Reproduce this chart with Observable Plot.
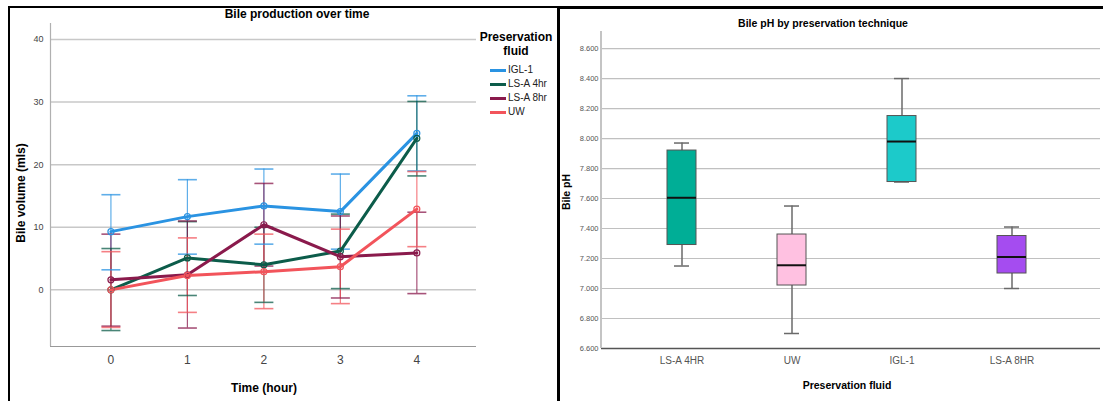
<!DOCTYPE html>
<html><head><meta charset="utf-8">
<script src="https://cdn.jsdelivr.net/npm/d3@7"></script>
<script src="https://cdn.jsdelivr.net/npm/@observablehq/plot@0.6"></script>
<style>
body{margin:0;background:#fff;font-family:"Liberation Sans",Arial,sans-serif;}
#wrap{position:relative;width:1103px;height:401px;overflow:hidden;background:#fff;}
.abs{position:absolute;}
.lbl{position:absolute;white-space:nowrap;line-height:1;}
.bar{position:absolute;background:#000;z-index:5;}
</style></head><body><div id="wrap"></div>
<script>
// ---------- Left chart data: Bile production over time ----------
const times = [0, 1, 2, 3, 4];
const volTicks = [0, 10, 20, 30, 40];
const seriesNames = ["IGL-1", "LS-A 4hr", "LS-A 8hr", "UW"];
const seriesColors = ["#2a93e2", "#0c5c4a", "#8a1a4c", "#f2545b"];
const meanIGL1 = [9.3, 11.7, 13.4, 12.5, 25.0];
const lowIGL1  = [3.2, 5.7, 7.3, 6.5, 19.0];
const highIGL1 = [15.2, 17.6, 19.3, 18.5, 31.0];
const meanLSA4 = [0.0, 5.1, 4.0, 6.2, 24.2];
const lowLSA4  = [-6.5, -0.9, -2.0, 0.2, 18.2];
const highLSA4 = [6.6, 10.9, 10.0, 12.1, 30.1];
const meanLSA8 = [1.6, 2.4, 10.4, 5.3, 5.9];
const lowLSA8  = [-5.8, -6.1, 3.8, -1.3, -0.6];
const highLSA8 = [8.9, 11.0, 17.0, 11.8, 12.4];
const meanUW   = [0.0, 2.3, 2.9, 3.7, 12.9];
const lowUW    = [-6.0, -3.6, -3.0, -2.2, 6.9];
const highUW   = [6.1, 8.3, 8.9, 9.7, 18.9];

// ---------- Right chart data: Bile pH by preservation technique ----------
const fluids = ["LS-A 4HR", "UW", "IGL-1", "LS-A 8HR"];
const boxColors = ["#00ae96", "#ffc1e1", "#1ccaca", "#a54cf0"];
const phMin    = [7.15, 6.70, 7.71, 7.00];
const phQ1     = [7.29, 7.02, 7.71, 7.10];
const phMedian = [7.605, 7.155, 7.98, 7.21];
const phQ3     = [7.92, 7.36, 8.15, 7.35];
const phMax    = [7.97, 7.55, 8.40, 7.41];
const phTicks  = [6.6, 6.8, 7.0, 7.2, 7.4, 7.6, 7.8, 8.0, 8.2, 8.4, 8.6];

// ---------- build tables ----------
const seriesData = [
  [meanIGL1, lowIGL1, highIGL1],
  [meanLSA4, lowLSA4, highLSA4],
  [meanLSA8, lowLSA8, highLSA8],
  [meanUW, lowUW, highUW]
];
const vol = [];
seriesNames.forEach((s, si) => {
  times.forEach((t, ti) => {
    vol.push({series: s, t, mean: seriesData[si][0][ti], low: seriesData[si][1][ti], high: seriesData[si][2][ti]});
  });
});
const boxes = fluids.map((f, i) => ({fluid: f, min: phMin[i], q1: phQ1[i], median: phMedian[i], q3: phQ3[i], max: phMax[i]}));

const FONT = "Liberation Sans, Arial, sans-serif";
const wrap = document.getElementById("wrap");

const capSymbol = {draw(ctx) { ctx.moveTo(-9.5, 0); ctx.lineTo(9.5, 0); }};

const xMin = -0.79, xMax = 4.78, yMin = -9.05, yMax = 42.55;
const left = Plot.plot({
  width: 560, height: 401,
  marginLeft: 50, marginRight: 84, marginTop: 23, marginBottom: 55,
  style: {background: "transparent", fontFamily: FONT},
  x: {domain: [xMin, xMax], label: null},
  y: {domain: [yMin, yMax], label: null},
  color: {domain: seriesNames, range: seriesColors},
  marks: [
    Plot.gridY(volTicks, {stroke: "#c8c8c8", strokeOpacity: 1, strokeWidth: 1.5}),
    Plot.ruleX([xMin], {stroke: "#b0b0b0", strokeWidth: 1.2}),
    Plot.ruleY([yMin], {stroke: "#999", strokeWidth: 1.2}),
    Plot.axisY(volTicks, {tickSize: 0, tickPadding: 7, fontSize: 9, color: "#444", label: null}),
    Plot.axisX(times, {tickSize: 0, tickPadding: 9, fontSize: 12, color: "#444", label: null}),
    Plot.ruleX(vol, {x: "t", y1: "low", y2: "high", stroke: "series", strokeWidth: 1.2, strokeOpacity: 0.75}),
    Plot.dot(vol, {x: "t", y: "low", stroke: "series", symbol: capSymbol, strokeWidth: 1.6, strokeOpacity: 0.75}),
    Plot.dot(vol, {x: "t", y: "high", stroke: "series", symbol: capSymbol, strokeWidth: 1.6, strokeOpacity: 0.75}),
    Plot.line(vol, {x: "t", y: "mean", stroke: "series", z: "series", strokeWidth: 3}),
    Plot.dot(vol, {x: "t", y: "mean", stroke: "series", fill: "none", r: 3, strokeWidth: 1.2})
  ]
});
left.style.position = "absolute"; left.style.left = "0px"; left.style.top = "0px";
wrap.appendChild(left);

const right = Plot.plot({
  width: 543, height: 401,
  marginLeft: 41, marginRight: 3, marginTop: 32, marginBottom: 53,
  style: {background: "transparent", fontFamily: FONT},
  x: {type: "band", domain: fluids, paddingInner: 0.737, paddingOuter: 0.6285, align: 0.472, label: null},
  y: {domain: [6.6, 8.707], label: null},
  color: {domain: fluids, range: boxColors},
  marks: [
    Plot.gridY(phTicks, {stroke: "#c0c0c0", strokeOpacity: 1, strokeWidth: 1.2}),
    Plot.ruleY([6.6], {stroke: "#555", strokeWidth: 1.3}),
    Plot.axisY(phTicks, {tickSize: 0, tickPadding: 3, fontSize: 7.5, color: "#555", tickFormat: d3.format(".3f"), label: null}),
    Plot.axisX({tickSize: 0, tickPadding: 8.5, fontSize: 10, color: "#555", label: null}),
    Plot.ruleX(boxes, {x: "fluid", y1: "min", y2: "max", stroke: "#6a6a6a", strokeWidth: 1.5}),
    Plot.tickY(boxes, {x: "fluid", y: "min", stroke: "#6a6a6a", strokeWidth: 1.5, insetLeft: 7, insetRight: 7}),
    Plot.tickY(boxes, {x: "fluid", y: "max", stroke: "#6a6a6a", strokeWidth: 1.5, insetLeft: 7, insetRight: 7}),
    Plot.barY(boxes, {x: "fluid", y1: "q1", y2: "q3", fill: "fluid", stroke: "#555", strokeWidth: 1}),
    Plot.tickY(boxes, {x: "fluid", y: "median", stroke: "#111", strokeWidth: 2})
  ]
});
right.style.position = "absolute"; right.style.left = "560px"; right.style.top = "0px";
wrap.appendChild(right);

// left axis line of right chart
const axL = document.createElement("div");
axL.className = "abs"; Object.assign(axL.style, {left: "600px", top: "31px", width: "1.5px", height: "317px", background: "#c4c4c4"});
wrap.appendChild(axL);

// text helper (centered at cx, cy)
function label(text, cx, cy, size, opts = {}) {
  const d = document.createElement("div");
  d.className = "lbl";
  d.textContent = text;
  Object.assign(d.style, {left: cx + "px", top: cy + "px", fontSize: size + "px", fontWeight: opts.bold ? "bold" : "normal",
    color: opts.color || "#000", transform: `translate(-50%,-50%)${opts.rotate ? " rotate(-90deg)" : ""}`, fontFamily: FONT});
  wrap.appendChild(d);
  return d;
}
label("Bile production over time", 297, 14, 12, {bold: true});
label("Bile volume (mls)", 21, 193, 12, {bold: true, rotate: true});
label("Time (hour)", 264, 388, 12, {bold: true});
label("Preservation", 516, 37, 12, {bold: true});
label("fluid", 516, 51, 12, {bold: true});

label("Bile pH by preservation technique", 823, 23, 10.5, {bold: true});
label("Bile pH", 566, 192, 10.5, {bold: true, rotate: true});
label("Preservation fluid", 847, 385, 10.5, {bold: true});

// legend
seriesNames.forEach((s, i) => {
  const y = 70 + i * 14;
  const sw = document.createElement("div");
  sw.className = "abs";
  Object.assign(sw.style, {left: "490px", top: (y - 1.5) + "px", width: "16px", height: "3px", background: seriesColors[i]});
  wrap.appendChild(sw);
  const t = document.createElement("div");
  t.className = "lbl";
  t.textContent = s;
  Object.assign(t.style, {left: "508px", top: y + "px", fontSize: "10px", transform: "translate(0,-50%)", color: "#222", fontFamily: FONT});
  wrap.appendChild(t);
});

// frame borders
function bar(l, t, w, h) {
  const b = document.createElement("div");
  b.className = "bar";
  Object.assign(b.style, {left: l + "px", top: t + "px", width: w + "px", height: h + "px"});
  wrap.appendChild(b);
}
bar(8, 6, 551, 2);
bar(557, 6, 546, 3);
bar(8, 6, 2, 395);
bar(557, 6, 3, 395);
</script></body></html>
